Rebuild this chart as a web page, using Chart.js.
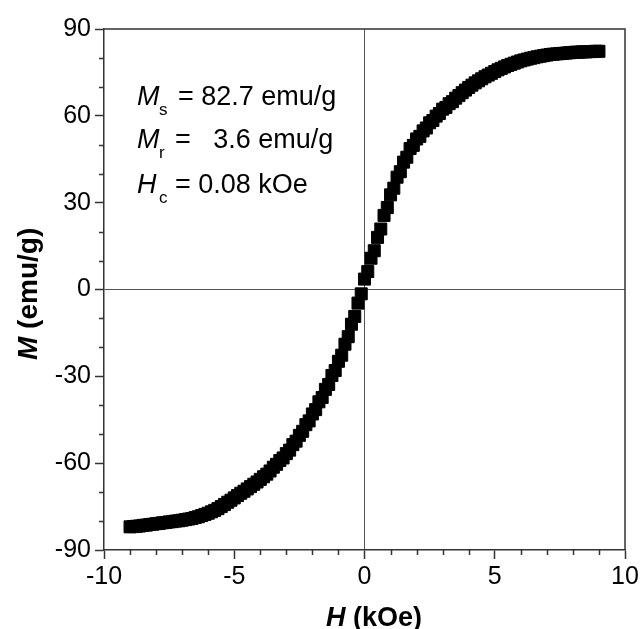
<!DOCTYPE html>
<html>
<head>
<meta charset="utf-8">
<script src="https://cdn.jsdelivr.net/npm/chart.js@4.4.1/dist/chart.umd.min.js"></script>
<style>
  html, body { margin: 0; padding: 0; background: #fff; }
  #wrap { width: 642px; height: 629px; position: relative; }
</style>
</head>
<body>
<div id="wrap"><canvas id="loop"></canvas></div>
<script>
// field going down (kOe) and magnetization (emu/g)
const fieldDown = [-9, -8.75, -8.5, -8.25, -8, -7.75, -7.5, -7.25, -7, -6.75, -6.5, -6.25, -6, -5.75, -5.5, -5.25,
  -5, -4.75, -4.5, -4.25, -4, -3.75, -3.5, -3.25, -3, -2.75, -2.5, -2.25, -2, -1.75, -1.5, -1.25, -1, -0.75,
  -0.5, -0.25, 0, 0.25, 0.5, 0.75, 1, 1.25, 1.5, 1.75, 2, 2.25, 2.5, 2.75, 3, 3.25, 3.5, 3.75, 4, 4.25, 4.5,
  4.75, 5, 5.25, 5.5, 5.75, 6, 6.25, 6.5, 6.75, 7, 7.25, 7.5, 7.75, 8, 8.25, 8.5, 8.75, 9];
const descM = [-82, -81.8, -81.5, -81.2, -80.9, -80.6, -80.3, -80, -79.7, -79.3, -78.8, -78.1, -77.3, -76.3, -75, -73.5,
  -72, -70.4, -68.9, -67.3, -65.6, -63.8, -61.4, -59.1, -56.7, -53.6, -50.4, -46.7, -43, -38.8, -34.5, -29.7, -24.8, -18.9,
  -12, -4.7, 3.6, 10.8, 18, 25.6, 32.7, 38.8, 44, 48.7, 52, 54.8, 57.6, 59.9, 62.3, 64.2, 66.1, 68, 69.8, 71.4, 72.8,
  74.1, 75.3, 76.4, 77.4, 78.2, 79, 79.6, 80.1, 80.6, 81, 81.3, 81.5, 81.7, 81.9, 82, 82.1, 82.2, 82.3];

// field going up (kOe) and magnetization (emu/g)
const fieldUp = [-8.875, -8.625, -8.375, -8.125, -7.875, -7.625, -7.375, -7.125, -6.875, -6.625, -6.375, -6.125,
  -5.875, -5.625, -5.375, -5.125, -4.875, -4.625, -4.375, -4.125, -3.875, -3.625, -3.375, -3.125, -2.875, -2.625,
  -2.375, -2.125, -1.875, -1.625, -1.375, -1.125, -0.875, -0.625, -0.375, -0.125, 0.125, 0.375, 0.625, 0.875,
  1.125, 1.375, 1.625, 1.875, 2.125, 2.375, 2.625, 2.875, 3.125, 3.375, 3.625, 3.875, 4.125, 4.375, 4.625, 4.875,
  5.125, 5.375, 5.625, 5.875, 6.125, 6.375, 6.625, 6.875, 7.125, 7.375, 7.625, 7.875, 8.125, 8.375, 8.625, 8.875];
const ascM = [-81.9, -81.7, -81.4, -81.1, -80.8, -80.5, -80.2, -79.9, -79.5, -79.1, -78.5, -77.7,
  -76.8, -75.7, -74.3, -72.8, -71.2, -69.7, -68.1, -66.5, -64.7, -62.7, -60.4, -58.2, -55.5, -52.4,
  -49, -45.4, -41.5, -37.3, -32.8, -28, -22.7, -16.3, -9.3, -1.5, 6.2, 13.4, 20.9, 28.3,
  35, 40.7, 45.7, 49.8, 52.9, 55.8, 58.4, 60.8, 62.9, 64.9, 67, 68.9, 70.6, 72.1, 73.5, 74.7,
  75.9, 76.9, 77.8, 78.6, 79.3, 79.9, 80.4, 80.8, 81.2, 81.4, 81.6, 81.8, 82, 82.1, 82.2, 82.3];

const xTicks = [-10, -5, 0, 5, 10];
const yTicks = [-90, -60, -30, 0, 30, 60, 90];

const FONT = '"Liberation Sans", Arial, Helvetica, sans-serif';
const AXIS = '#333';

const toPoints = (xs, ys) => xs.map((x, i) => ({ x: x, y: ys[i] }));

// minor ticks, frame, axis titles and the Ms/Mr/Hc note
const extras = {
  id: 'extras',
  afterDraw(chart) {
    const ctx = chart.ctx;
    const a = chart.chartArea;
    const sx = chart.scales.x;
    const sy = chart.scales.y;
    ctx.save();
    ctx.strokeStyle = AXIS;
    ctx.lineWidth = 1.5;
    ctx.beginPath();
    for (let v = -10; v <= 10; v++) {
      if (v % 5 === 0) continue;
      const px = Math.round(sx.getPixelForValue(v)) + 0.5;
      ctx.moveTo(px, a.bottom);
      ctx.lineTo(px, a.bottom + 5);
    }
    for (let v = -90; v <= 90; v += 10) {
      if (v % 30 === 0) continue;
      const py = Math.round(sy.getPixelForValue(v)) + 0.5;
      ctx.moveTo(a.left - 5, py);
      ctx.lineTo(a.left, py);
    }
    // top and right of the box
    ctx.moveTo(a.left, a.top);
    ctx.lineTo(a.right, a.top);
    ctx.lineTo(a.right, a.bottom);
    ctx.stroke();

    ctx.fillStyle = '#000';
    ctx.textBaseline = 'alphabetic';
    ctx.textAlign = 'left';

    // x title
    ctx.font = 'italic bold 27px ' + FONT;
    let x0 = 326;
    ctx.fillText('H', x0, 626);
    x0 += ctx.measureText('H').width;
    ctx.font = 'bold 27px ' + FONT;
    ctx.fillText(' (kOe)', x0, 626);

    // y title
    ctx.save();
    ctx.translate(37, 360);
    ctx.rotate(-Math.PI / 2);
    ctx.font = 'italic bold 28px ' + FONT;
    ctx.fillText('M', 0, 0);
    const y0 = ctx.measureText('M').width;
    ctx.font = 'bold 28px ' + FONT;
    ctx.fillText(' (emu/g)', y0, 0);
    ctx.restore();

    // note
    const rows = [
      { sym: 'M', sub: 's', eqX: 178, eq: '= 82.7 emu/g', y: 105 },
      { sym: 'M', sub: 'r', eqX: 175, eq: '=   3.6 emu/g', y: 148 },
      { sym: 'H', sub: 'c', eqX: 175, eq: '= 0.08 kOe', y: 193 }
    ];
    rows.forEach(r => {
      ctx.font = 'italic 27px ' + FONT;
      ctx.fillText(r.sym, 137, r.y);
      ctx.font = '17px ' + FONT;
      ctx.fillText(r.sub, 159, r.y + 10);
      ctx.font = '27px ' + FONT;
      ctx.fillText(r.eq, r.eqX, r.y);
    });
    ctx.restore();
  }
};

const zeroLine = ctx => (ctx.tick && ctx.tick.value === 0) ? '#555' : 'rgba(0,0,0,0)';

const branch = (xs, ys) => ({
  data: toPoints(xs, ys),
  pointStyle: 'rect',
  pointRadius: 8.5,
  backgroundColor: '#000',
  borderColor: '#000',
  borderWidth: 1,
  showLine: false
});

new Chart(document.getElementById('loop'), {
  type: 'scatter',
  data: {
    datasets: [branch(fieldDown, descM), branch(fieldUp, ascM)]
  },
  options: {
    responsive: true,
    maintainAspectRatio: false,
    animation: false,
    events: [],
    layout: { padding: { top: 29, right: 17, left: 0, bottom: 0 } },
    plugins: {
      legend: { display: false },
      tooltip: { enabled: false }
    },
    scales: {
      x: {
        type: 'linear',
        min: -10,
        max: 10,
        afterBuildTicks: s => { s.ticks = xTicks.map(v => ({ value: v })); },
        ticks: { color: '#000', font: { family: FONT, size: 25 }, padding: 3, maxRotation: 0 },
        grid: { color: zeroLine, lineWidth: 1, tickColor: AXIS, tickLength: 9, tickWidth: 1.5 },
        border: { color: AXIS, width: 1.5 },
        afterFit: s => { s.height = 79; s.paddingLeft = 0; s.paddingRight = 0; }
      },
      y: {
        type: 'linear',
        min: -90,
        max: 90,
        afterBuildTicks: s => { s.ticks = yTicks.map(v => ({ value: v })); },
        ticks: { color: '#000', font: { family: FONT, size: 25 }, padding: 4 },
        grid: { color: zeroLine, lineWidth: 1, tickColor: AXIS, tickLength: 9, tickWidth: 1.5 },
        border: { color: AXIS, width: 1.5 },
        afterFit: s => { s.width = 104; s.paddingTop = 0; s.paddingBottom = 0; }
      }
    }
  },
  plugins: [extras]
});
</script>
</body>
</html>
